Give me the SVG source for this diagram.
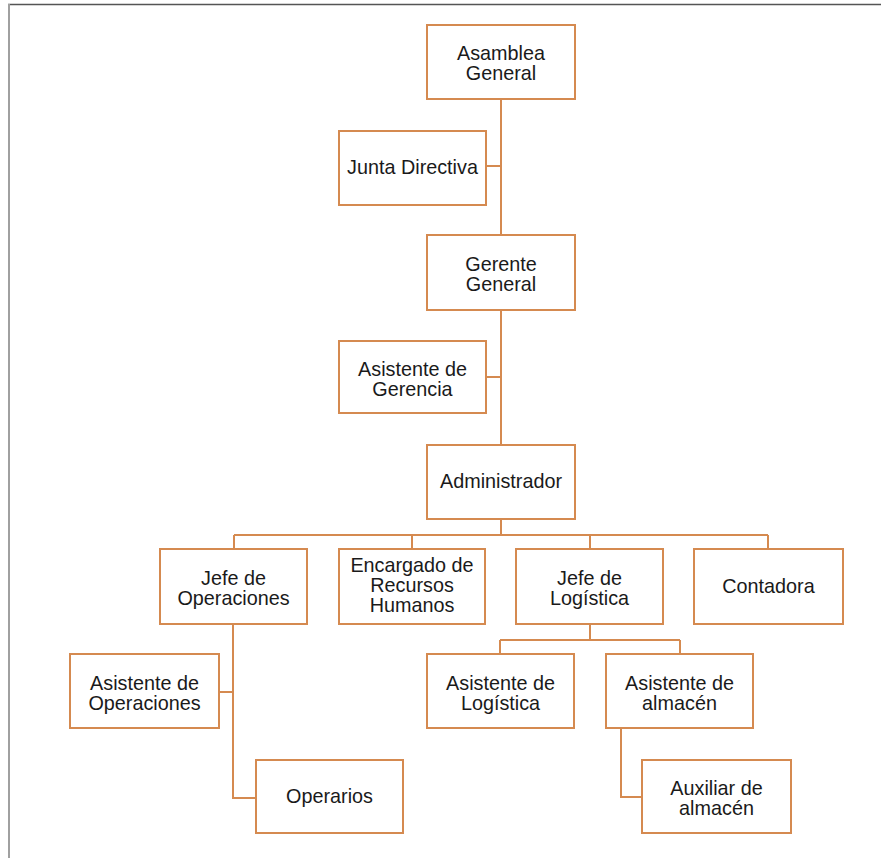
<svg xmlns="http://www.w3.org/2000/svg" width="881" height="858" viewBox="0 0 881 858">
<style>
.box{fill:#fff;stroke:#d58a50;stroke-width:2}
.ln{fill:none;stroke:#d58a50;stroke-width:2}
text{font-family:"Liberation Sans",Arial,sans-serif;font-size:19.8px;fill:#1a1a1a;text-anchor:middle}
</style>
<rect width="881" height="858" fill="#fff"/>
<line x1="8" y1="4.5" x2="881" y2="4.5" stroke="#555" stroke-width="1.5"/>
<line x1="9" y1="4" x2="9" y2="858" stroke="#a0a0a0" stroke-width="2"/>
<g id="connectors">
<path class="ln" d="M501 99V445M486 166H501M486 377H501"/>
<path class="ln" d="M501 519V535M234 535H768M234 535V549M412 535V549M590 535V549M768 535V549"/>
<path class="ln" d="M233 624V798H256M219 692H233"/>
<path class="ln" d="M590 624V640M500 640H680M500 640V654M680 640V654"/>
<path class="ln" d="M621 728V797H642"/>
</g>
<g id="asamblea"><rect class="box" x="427" y="25" width="148" height="74"/><text x="501" y="60">Asamblea</text><text x="501" y="80">General</text></g>
<g id="junta"><rect class="box" x="339" y="131" width="147" height="74"/><text x="412.5" y="174">Junta Directiva</text></g>
<g id="gerente"><rect class="box" x="427" y="235" width="148" height="75"/><text x="501" y="270.5">Gerente</text><text x="501" y="290.5">General</text></g>
<g id="asistente-gerencia"><rect class="box" x="339" y="341" width="147" height="72"/><text x="412.5" y="375.5">Asistente de</text><text x="412.5" y="395.5">Gerencia</text></g>
<g id="administrador"><rect class="box" x="427" y="445" width="148" height="74"/><text x="501" y="488">Administrador</text></g>
<g id="jefe-operaciones"><rect class="box" x="160" y="549" width="147" height="75"/><text x="233.5" y="585">Jefe de</text><text x="233.5" y="605">Operaciones</text></g>
<g id="encargado-rrhh"><rect class="box" x="339" y="549" width="146" height="75"/><text x="412" y="572">Encargado de</text><text x="412" y="592">Recursos</text><text x="412" y="612">Humanos</text></g>
<g id="jefe-logistica"><rect class="box" x="516" y="549" width="147" height="75"/><text x="589.5" y="585">Jefe de</text><text x="589.5" y="605">Logística</text></g>
<g id="contadora"><rect class="box" x="694" y="549" width="149" height="75"/><text x="768.5" y="592.5">Contadora</text></g>
<g id="asistente-operaciones"><rect class="box" x="70" y="654" width="149" height="74"/><text x="144.5" y="689.5">Asistente de</text><text x="144.5" y="709.5">Operaciones</text></g>
<g id="operarios"><rect class="box" x="256" y="760" width="147" height="73"/><text x="329.5" y="802.5">Operarios</text></g>
<g id="asistente-logistica"><rect class="box" x="427" y="654" width="147" height="74"/><text x="500.5" y="689.5">Asistente de</text><text x="500.5" y="709.5">Logística</text></g>
<g id="asistente-almacen"><rect class="box" x="606" y="654" width="147" height="74"/><text x="679.5" y="689.5">Asistente de</text><text x="679.5" y="709.5">almacén</text></g>
<g id="auxiliar-almacen"><rect class="box" x="642" y="760" width="149" height="73"/><text x="716.5" y="794.5">Auxiliar de</text><text x="716.5" y="814.5">almacén</text></g>
</svg>
